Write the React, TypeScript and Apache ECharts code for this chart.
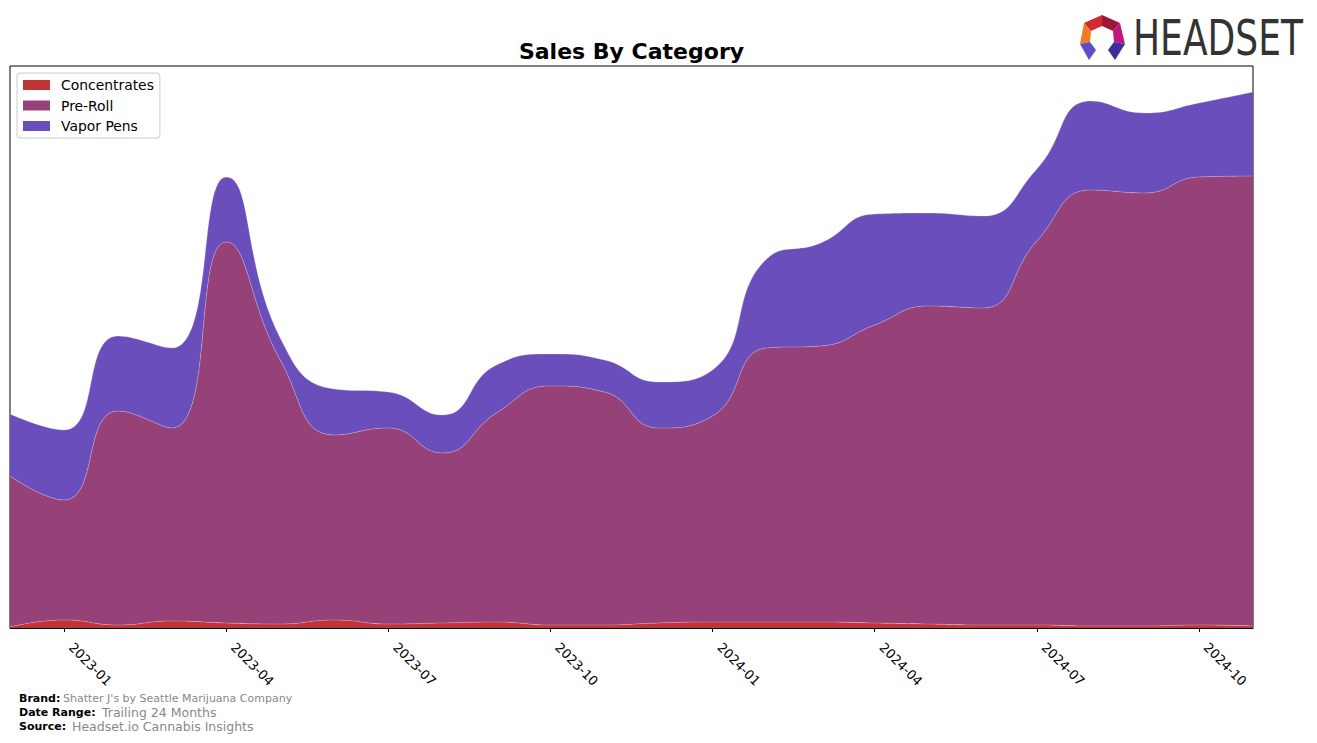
import React, { useEffect, useRef } from "react";
import * as echarts from "echarts";

const months = [
  "2022-12", "2023-01", "2023-02", "2023-03", "2023-04", "2023-05", "2023-06", "2023-07",
  "2023-08", "2023-09", "2023-10", "2023-11", "2023-12", "2024-01", "2024-02", "2024-03",
  "2024-04", "2024-05", "2024-06", "2024-07", "2024-08", "2024-09", "2024-10", "2024-11",
];

const concentrates = [1, 8, 3, 7, 5, 4, 8, 4, 5, 6, 3, 3, 5, 6, 6, 6, 5, 4, 3, 3, 2, 2, 3, 2];
const preRoll = [151, 120, 214, 193, 381, 264, 185, 196, 170, 209, 239, 233, 195, 206, 274, 276, 298, 318, 317, 384, 436, 433, 448, 450];
const vaporPens = [62, 70, 75, 80, 65, 22, 46, 36, 38, 48, 32, 32, 46, 46, 89, 103, 111, 93, 92, 72, 89, 80, 74, 84];

const seriesNames = ["Concentrates", "Pre-Roll", "Vapor Pens"];
const seriesColors = ["#c03438", "#964278", "#6a4ebc"];

const FONT = "DejaVu Sans, Liberation Sans, sans-serif";

export default function App() {
  const ref = useRef<HTMLDivElement>(null);

  useEffect(() => {
    if (!ref.current) return;
    const chart = echarts.init(ref.current, null, { renderer: "svg" });
    const dataSets = [concentrates, preRoll, vaporPens];
    const showTick = (i: number) => i % 3 === 1;

    chart.setOption({
      animation: false,
      grid: {
        left: 10,
        right: 64,
        top: 66,
        bottom: 115,
        show: true,
        borderColor: "#000",
        borderWidth: 1,
        backgroundColor: "transparent",
      },
      legend: {
        orient: "vertical",
        left: 17,
        top: 73,
        icon: "rect",
        itemWidth: 27,
        itemHeight: 10,
        itemGap: 6.5,
        padding: [5, 6, 5, 6],
        borderColor: "#cccccc",
        borderWidth: 1,
        borderRadius: 3,
        backgroundColor: "rgba(255,255,255,0.85)",
        textStyle: { fontFamily: FONT, fontSize: 13.9, color: "#000", padding: [0, 0, 0, 6] },
        data: seriesNames,
      },
      xAxis: {
        type: "category",
        data: months,
        boundaryGap: false,
        axisLine: { show: true, lineStyle: { color: "#000", width: 1 } },
        axisTick: { show: true, interval: (i: number) => showTick(i), length: 4, lineStyle: { color: "#000" } },
        axisLabel: {
          interval: (i: number) => showTick(i),
          rotate: -45,
          margin: 10,
          padding: [0, 0, 0, 10],
          fontFamily: FONT,
          fontSize: 13,
          color: "#000",
        },
        splitLine: { show: false },
      },
      yAxis: {
        type: "value",
        min: 0,
        max: 562,
        axisLabel: { show: false },
        axisTick: { show: false },
        axisLine: { show: false },
        splitLine: { show: false },
      },
      series: seriesNames.map((name, k) => ({
        name,
        type: "line",
        stack: "total",
        smooth: 0.5,
        symbol: "none",
        data: dataSets[k],
        itemStyle: { color: seriesColors[k] },
        lineStyle: { width: 0.7, color: "rgba(255,255,255,0.35)" },
        areaStyle: { color: seriesColors[k], opacity: 1 },
        z: 2,
      })),
      graphic: [
        {
          type: "text",
          x: 631.5,
          y: 51,
          style: {
            text: "Sales By Category",
            font: `bold 22px ${FONT}`,
            fill: "#000",
            textAlign: "center",
            textVerticalAlign: "middle",
          },
        },
        // footer
        { type: "text", x: 19, y: 698, style: { text: "Brand:", font: `bold 11px ${FONT}`, fill: "#000", textVerticalAlign: "middle" } },
        { type: "text", x: 63, y: 698, style: { text: "Shatter J's by Seattle Marijuana Company", font: `11px ${FONT}`, fill: "#888", textVerticalAlign: "middle" } },
        { type: "text", x: 19, y: 712, style: { text: "Date Range:", font: `bold 11px ${FONT}`, fill: "#000", textVerticalAlign: "middle" } },
        { type: "text", x: 102, y: 712, style: { text: "Trailing 24 Months", font: `12.5px ${FONT}`, fill: "#888", textVerticalAlign: "middle" } },
        { type: "text", x: 19, y: 726, style: { text: "Source:", font: `bold 11px ${FONT}`, fill: "#000", textVerticalAlign: "middle" } },
        { type: "text", x: 72, y: 726, style: { text: "Headset.io Cannabis Insights", font: `12.5px ${FONT}`, fill: "#888", textVerticalAlign: "middle" } },
        // logo
        {
          type: "group",
          children: [
            { type: "polygon", shape: { points: [[1084, 23], [1102, 15], [1102, 26], [1091, 31]] }, style: { fill: "#d42a2f" } },
            { type: "polygon", shape: { points: [[1102, 15], [1120, 23], [1113, 31], [1102, 26]] }, style: { fill: "#9e1638" } },
            { type: "polygon", shape: { points: [[1084, 23], [1091, 31], [1090, 42], [1080, 44]] }, style: { fill: "#f47a22" } },
            { type: "polygon", shape: { points: [[1120, 23], [1125, 44], [1114, 42], [1113, 31]] }, style: { fill: "#c0177c" } },
            { type: "polygon", shape: { points: [[1080, 44], [1090, 42], [1096, 50], [1089, 60]] }, style: { fill: "#5a4fc8" } },
            { type: "polygon", shape: { points: [[1125, 44], [1114, 42], [1108, 50], [1115, 60]] }, style: { fill: "#3b2f9e" } },
          ],
        },
        {
          type: "text",
          x: 1133,
          y: 38,
          scaleX: 0.736,
          style: {
            text: "HEADSET",
            font: `49px ${FONT}`,
            fill: "#333333",
            textAlign: "left",
            textVerticalAlign: "middle",
          },
        },
      ],
    });

    return () => chart.dispose();
  }, []);

  return (
    <div
      ref={ref}
      style={{ position: "absolute", left: 0, top: 0, width: 1317, height: 743, background: "#fff" }}
    />
  );
}
